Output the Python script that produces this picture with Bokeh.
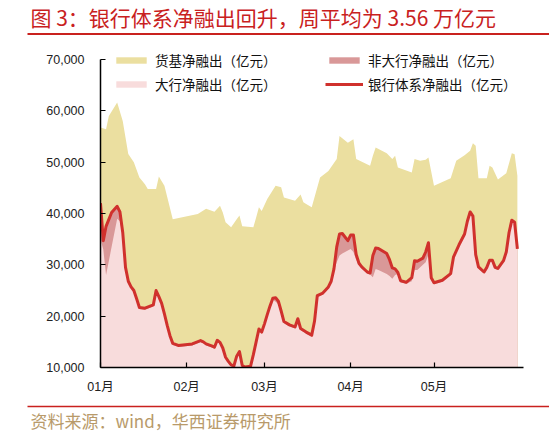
import pandas as pd
from bokeh.plotting import figure
from bokeh.layouts import column
from bokeh.models import (Range1d, FixedTicker, NumeralTickFormatter, Legend,
                          LegendItem, ColumnDataSource)
from bokeh.core.properties import value
from bokeh.embed import file_html
from bokeh.resources import INLINE

# ---------------- data ----------------
TITLE = "图 3：银行体系净融出回升，周平均为 3.56 万亿元"
SOURCE = "资料来源：wind，华西证券研究所"
YEAR_START = "2023-01-01"
month_ticks = ["2023-01-01", "2023-02-01", "2023-03-01", "2023-04-01", "2023-05-01"]
month_labels = ["01月", "02月", "03月", "04月", "05月"]
y_ticks = [10000, 20000, 30000, 40000, 50000, 60000, 70000]

series_names = ["货基净融出（亿元）", "非大行净融出（亿元）",
                "大行净融出（亿元）", "银行体系净融出（亿元）"]

# day of 2023 (0 = 1 Jan)
mmf_days = [0, 2, 3, 6, 8, 10, 12, 14, 16, 17, 20, 21, 23, 26, 35, 38, 41, 43, 44, 45,
            47, 49, 50, 51, 55, 56, 57, 58, 60, 63, 65, 66, 70, 72, 73, 74, 76, 79, 82, 85,
            86, 89, 91, 92, 97, 98, 99, 103, 105, 106, 107, 112, 113, 115, 117, 118, 120,
            126, 128, 131, 133, 134, 135, 136, 139, 140, 141, 143, 146, 148, 149, 150]
mmf_vals = [56750, 56400, 59000, 61600, 58000, 51600, 50000, 47000, 45700, 44750,
            44750, 47200, 45400, 38900, 39900, 40900, 40350, 41500, 40200, 38300,
            37300, 38900, 39600, 37500, 37300, 39200, 41200, 40500, 42800, 45400,
            45100, 43100, 42500, 43700, 42200, 41850, 41200, 47000, 48300, 50600,
            55100, 53800, 54450, 50600, 49300, 51250, 52850, 51750, 50600, 51250,
            48950, 48000, 50600, 50270, 50470, 50900, 45400, 46850, 50270, 51360,
            52200, 53700, 53200, 46850, 46850, 49300, 48950, 46600, 47860, 51750,
            51560, 47350]

bank_days = [0, 1, 2, 4, 6, 7, 8, 9, 10, 11,
             12, 13, 14, 16, 19, 20, 21, 22, 23, 24,
             25, 26, 28, 33, 36, 37, 38, 40, 41, 42,
             43, 44, 45, 46, 47, 48, 49, 50, 51, 52,
             54, 55, 56, 57, 58, 59, 60, 61, 62, 63,
             64, 65, 66, 68, 70, 71, 72, 74, 76, 77,
             78, 80, 82, 83, 84, 85, 86, 87, 89, 90,
             91, 92, 93, 94, 96, 97, 98, 99, 100, 103,
             104, 105, 106, 107, 108, 110, 112, 113, 114, 116,
             117, 118, 119, 120, 123, 126, 127, 129, 131, 132,
             133, 134, 135, 136, 138, 139, 140, 141, 142, 143,
             145, 146, 147, 148, 149, 150]
bank_total = [42000, 34700, 37500, 40200, 41400, 40300, 36300, 29500, 26800, 25700,
              25000, 23400, 21700, 21550, 22200, 25000, 23800, 22500, 20450, 18200,
              16200, 14700, 14300, 14600, 15250, 15000, 14600, 14200, 13950, 15300,
              14900, 13800, 12000, 11200, 10500, 10300, 12200, 13100, 10400, 10100,
              10250, 12500, 15000, 17500, 16900, 18500, 20300, 22000, 23500, 23600,
              22900, 21000, 18950, 18300, 17900, 19500, 17600, 16900, 16300, 19000,
              24000, 24500, 25700, 26800, 29200, 33500, 36000, 36100, 34700, 35800,
              35800, 32000, 30300, 29600, 28600, 28400, 31800, 33300, 33200, 32200,
              31000, 29400, 29200, 28500, 26900, 26600, 27500, 30800, 30700, 31300,
              32500, 34300, 27500, 26500, 27000, 28300, 31500, 33900, 36000, 38500,
              40300, 39500, 32000, 29600, 28600, 29500, 30900, 30900, 29500, 29300,
              30800, 32500, 36300, 38700, 38300, 33100]
non_big = [7000, 1700, 9500, 6700, 2400, 1800, 800, 500, 300, 300,
           300, 300, 300, 300, 300, 300, 300, 300, 300, 300,
           300, 300, 300, 300, 300, 300, 300, 300, 300, 300,
           300, 300, 300, 300, 300, 300, 300, 300, 300, 300,
           300, 300, 300, 300, 300, 300, 300, 300, 300, 800,
           600, 300, 300, 300, 300, 300, 300, 300, 300, 300,
           300, 300, 300, 300, 300, 3000, 4200, 3900, 1900, 2700,
           3300, 1000, 300, 300, 300, 300, 4200, 4100, 4200, 4000,
           3200, 2100, 1200, 300, 300, 300, 700, 1800, 1700, 1300,
           2000, 2300, 300, 300, 300, 300, 300, 300, 300, 300,
           300, 300, 300, 300, 300, 300, 300, 300, 300, 300,
           300, 300, 300, 300, 300, 300]

# ---------------- styles ----------------
YELLOW = "#EBDFA0"
PINK = "#F8DCDC"
DARK = "#D99898"
RED = "#D0312D"
TITLE_RED = "#C9211E"
TAN = "#B89A6A"
CJK = "Noto Sans CJK SC"
LATIN = "Liberation Sans, Noto Sans CJK SC"

start = pd.Timestamp(YEAR_START)
tick_days = [(pd.Timestamp(t) - start).days for t in month_ticks]

mmf_src = ColumnDataSource(dict(x=mmf_days, y=mmf_vals))
big = [t - n for t, n in zip(bank_total, non_big)]
bank_src = ColumnDataSource(dict(x=bank_days, total=bank_total, big=big,
                                 base=[0] * len(bank_days)))

W = 549


def no_align(fig):
    try:
        fig.frame_align = False
    except Exception:
        pass


# ---------------- header ----------------
h = figure(width=W, height=40, x_range=Range1d(0, W), y_range=Range1d(0, 40),
           output_backend="svg", toolbar_location=None, min_border=0,
           x_axis_type=None, y_axis_type=None, title=None)
h.outline_line_color = None
no_align(h)
h.text(x=[30], y=[24], text=[TITLE], text_font=value(CJK), text_font_size="21px",
       text_color=TITLE_RED, text_baseline="middle", text_align="left")
h.line(x=[27, W], y=[6.5, 6.5], line_color=TITLE_RED, line_width=2)

# ---------------- main chart ----------------
p = figure(width=W, height=360, output_backend="svg", toolbar_location=None,
           x_range=Range1d(0, 152.2), y_range=Range1d(10000, 72920),
           min_border_left=100, min_border_right=26, min_border_top=4,
           min_border_bottom=33, title=None)
p.xgrid.visible = False
p.ygrid.visible = False
p.outline_line_color = None
no_align(p)

r_mmf = p.varea(x="x", y1=0, y2="y", source=mmf_src, fill_color=YELLOW)
r_non = p.varea(x="x", y1="base", y2="total", source=bank_src, fill_color=DARK)
r_big = p.varea(x="x", y1="base", y2="big", source=bank_src, fill_color=PINK)
r_tot = p.line(x="x", y="total", source=bank_src, line_color=RED, line_width=3,
               line_join="round")

for ax in (p.xaxis[0], p.yaxis[0]):
    ax.axis_line_color = "black"
    ax.axis_line_width = 1.5
    ax.major_tick_in = 5
    ax.major_tick_out = 0
    ax.major_tick_line_color = "black"
    ax.major_tick_line_width = 1.2
    ax.minor_tick_line_color = None
    ax.major_label_text_font = LATIN
    ax.major_label_text_font_size = "12.5px"
    ax.major_label_text_color = "#222222"

p.yaxis[0].ticker = FixedTicker(ticks=y_ticks)
p.yaxis[0].formatter = NumeralTickFormatter(format="0,0")
p.yaxis[0].major_label_standoff = 16
p.yaxis[0].bounds = (y_ticks[0], y_ticks[-1])
p.xaxis[0].ticker = FixedTicker(ticks=tick_days)
p.xaxis[0].major_label_overrides = dict(zip(tick_days, month_labels))
p.xaxis[0].major_label_standoff = 12


def make_legend(items, x):
    return Legend(items=items, location=(x, 273), orientation="vertical",
                  padding=0, margin=0, spacing=4, label_height=20,
                  glyph_height=8, glyph_width=38, label_standoff=5,
                  label_text_font=CJK, label_text_font_size="13.5px",
                  label_text_color="#111111", background_fill_alpha=0,
                  border_line_color=None)


leg_a = make_legend([LegendItem(label=series_names[0], renderers=[r_mmf]),
                     LegendItem(label=series_names[2], renderers=[r_big])], 12)
leg_b = make_legend([LegendItem(label=series_names[1], renderers=[r_non]),
                     LegendItem(label=series_names[3], renderers=[r_tot])], 225)
p.add_layout(leg_a)
p.add_layout(leg_b)

# ---------------- footer ----------------
f = figure(width=W, height=32, x_range=Range1d(0, W), y_range=Range1d(0, 32),
           output_backend="svg", toolbar_location=None, min_border=0,
           x_axis_type=None, y_axis_type=None, title=None)
f.outline_line_color = None
no_align(f)
f.line(x=[27, W], y=[26, 26], line_color=TITLE_RED, line_width=1.3)
f.text(x=[30], y=[12.5], text=[SOURCE], text_font=value(CJK), text_font_size="17px",
       text_color=TAN, text_baseline="middle", text_align="left")

layout = column(h, p, f, spacing=0)
open("out.html", "w").write(file_html(layout, INLINE))
